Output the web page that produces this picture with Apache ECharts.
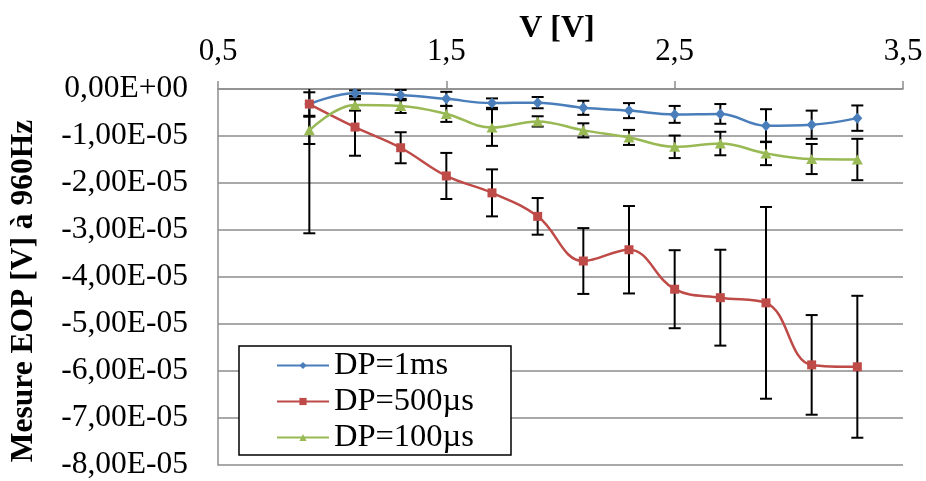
<!DOCTYPE html>
<html>
<head>
<meta charset="utf-8">
<script src="https://cdn.jsdelivr.net/npm/echarts@6/dist/echarts.min.js"></script>
<style>html,body{margin:0;padding:0;background:#fff;}#chart{width:926px;height:481px;}</style>
</head>
<body>
<div id="chart"></div>
<script>
// Tension (V)
var xValues = [0.9, 1.1, 1.3, 1.5, 1.7, 1.9, 2.1, 2.3, 2.5, 2.7, 2.9, 3.1, 3.3];
// Mesure EOP (V) at 960 Hz, and error amounts (±)
var dp1msValues   = [-0.32e-5, -0.09e-5, -0.13e-5, -0.21e-5, -0.30e-5, -0.29e-5, -0.40e-5, -0.46e-5, -0.54e-5, -0.53e-5, -0.78e-5, -0.76e-5, -0.62e-5];
var dp1msErr      = [2.75e-5, 0.06e-5, 0.11e-5, 0.15e-5, 0.10e-5, 0.12e-5, 0.15e-5, 0.16e-5, 0.18e-5, 0.21e-5, 0.35e-5, 0.30e-5, 0.27e-5];
var dp500usValues = [-0.32e-5, -0.81e-5, -1.25e-5, -1.85e-5, -2.21e-5, -2.71e-5, -3.66e-5, -3.42e-5, -4.26e-5, -4.44e-5, -4.55e-5, -5.87e-5, -5.91e-5];
var dp500usErr    = [0.25e-5, 0.61e-5, 0.33e-5, 0.49e-5, 0.50e-5, 0.39e-5, 0.70e-5, 0.93e-5, 0.83e-5, 1.02e-5, 2.04e-5, 1.06e-5, 1.51e-5];
var dp100usValues = [-0.88e-5, -0.34e-5, -0.36e-5, -0.53e-5, -0.82e-5, -0.69e-5, -0.88e-5, -1.03e-5, -1.23e-5, -1.16e-5, -1.37e-5, -1.49e-5, -1.50e-5];
var dp100usErr    = [0.29e-5, 0.12e-5, 0.15e-5, 0.17e-5, 0.39e-5, 0.11e-5, 0.15e-5, 0.16e-5, 0.24e-5, 0.25e-5, 0.25e-5, 0.32e-5, 0.44e-5];
var seriesNames = ['DP=1ms', 'DP=500µs', 'DP=100µs'];

var FONT = 'Liberation Serif';
var chart = echarts.init(document.getElementById('chart'), null, {renderer: 'canvas'});

function pts(vals) { return xValues.map(function (x, i) { return [x, vals[i]]; }); }
function errData(vals, errs) { return xValues.map(function (x, i) { return [x, vals[i] - errs[i], vals[i] + errs[i]]; }); }

function errRender(params, api) {
  var cs = params.coordSys;
  var x = api.value(0);
  var lo = api.coord([x, api.value(1)]);
  var hi = api.coord([x, api.value(2)]);
  var top = cs.y, bot = cs.y + cs.height;
  var px = lo[0];
  var y1 = hi[1], y2 = lo[1];
  var children = [];
  var cy1 = Math.max(top, y1), cy2 = Math.min(bot, y2);
  var st = {stroke: '#000', lineWidth: 2};
  children.push({type: 'line', shape: {x1: px, y1: cy1, x2: px, y2: cy2}, style: st});
  var hw = 6;
  if (y1 >= top) children.push({type: 'line', shape: {x1: px - hw, y1: y1, x2: px + hw, y2: y1}, style: st});
  if (y2 <= bot) children.push({type: 'line', shape: {x1: px - hw, y1: y2, x2: px + hw, y2: y2}, style: st});
  return {type: 'group', children: children};
}

function yLabel(v) {
  var n = Math.round(v * 1e5);
  if (n === 0) return '0,00E+00';
  return (n < 0 ? '-' : '') + Math.abs(n) + ',00E-05';
}

var colors = ['#4A7EBB', '#BE4B48', '#98B954'];
var lineW = 2.5;

chart.setOption({
  animation: false,
  backgroundColor: '#fff',
  textStyle: {fontFamily: FONT},
  grid: {left: 218, right: 23, top: 89, bottom: 14, containLabel: false},
  xAxis: {
    type: 'value', position: 'top', min: 0.5, max: 3.5, interval: 1,
    axisLine: {show: true, onZero: false, lineStyle: {color: '#8c8c8c', width: 1.5}},
    axisTick: {show: true, inside: false, length: 8, lineStyle: {color: '#8c8c8c', width: 1.5}},
    splitLine: {show: false},
    axisLabel: {
      margin: 22, color: '#000', fontFamily: FONT, fontSize: 31,
      formatter: function (v) { return String(Math.round(v * 10) / 10).replace('.', ','); }
    }
  },
  yAxis: {
    type: 'value', min: -8e-5, max: 0, interval: 1e-5,
    axisLine: {show: true, lineStyle: {color: '#8c8c8c', width: 1.5}},
    axisTick: {show: false},
    splitLine: {show: true, lineStyle: {color: '#8c8c8c', width: 1.5}},
    axisLabel: {margin: 30, color: '#000', fontFamily: FONT, fontSize: 31.5, formatter: yLabel}
  },
  legend: {
    orient: 'vertical', left: 239, top: 346,
    data: seriesNames,
    itemWidth: 52, itemHeight: 9, itemGap: 3,
    padding: [3, 37, 1, 37],
    backgroundColor: '#fff', borderColor: '#000', borderWidth: 1.5,
    textStyle: {fontFamily: FONT, fontSize: 32.5, color: '#000'}
  },
  graphic: [
    {type: 'text', x: 557, y: 29, style: {text: 'V [V]', font: 'bold 32px "Liberation Serif"', fill: '#000', align: 'center', verticalAlign: 'middle'}},
    {type: 'text', x: 24, y: 291, rotation: Math.PI / 2, style: {text: 'Mesure EOP [V] à 960Hz', font: 'bold 31.5px "Liberation Serif"', fill: '#000', align: 'center', verticalAlign: 'middle'}}
  ],
  series: [
    {type: 'custom', name: 'err1', renderItem: errRender, data: errData(dp1msValues, dp1msErr), z: 1, silent: true},
    {type: 'custom', name: 'err2', renderItem: errRender, data: errData(dp500usValues, dp500usErr), z: 1, silent: true},
    {type: 'custom', name: 'err3', renderItem: errRender, data: errData(dp100usValues, dp100usErr), z: 1, silent: true},
    {type: 'line', name: seriesNames[0], data: pts(dp1msValues), smooth: 0.4, symbol: 'diamond', symbolSize: [10, 11],
      lineStyle: {color: colors[0], width: lineW}, itemStyle: {color: colors[0]}, z: 3},
    {type: 'line', name: seriesNames[1], data: pts(dp500usValues), smooth: 0.4, symbol: 'rect', symbolSize: 9,
      lineStyle: {color: colors[1], width: lineW}, itemStyle: {color: colors[1]}, z: 4},
    {type: 'line', name: seriesNames[2], data: pts(dp100usValues), smooth: 0.4, symbol: 'triangle', symbolSize: [11, 10],
      lineStyle: {color: colors[2], width: lineW}, itemStyle: {color: colors[2]}, z: 5}
  ]
});
</script>
</body>
</html>
